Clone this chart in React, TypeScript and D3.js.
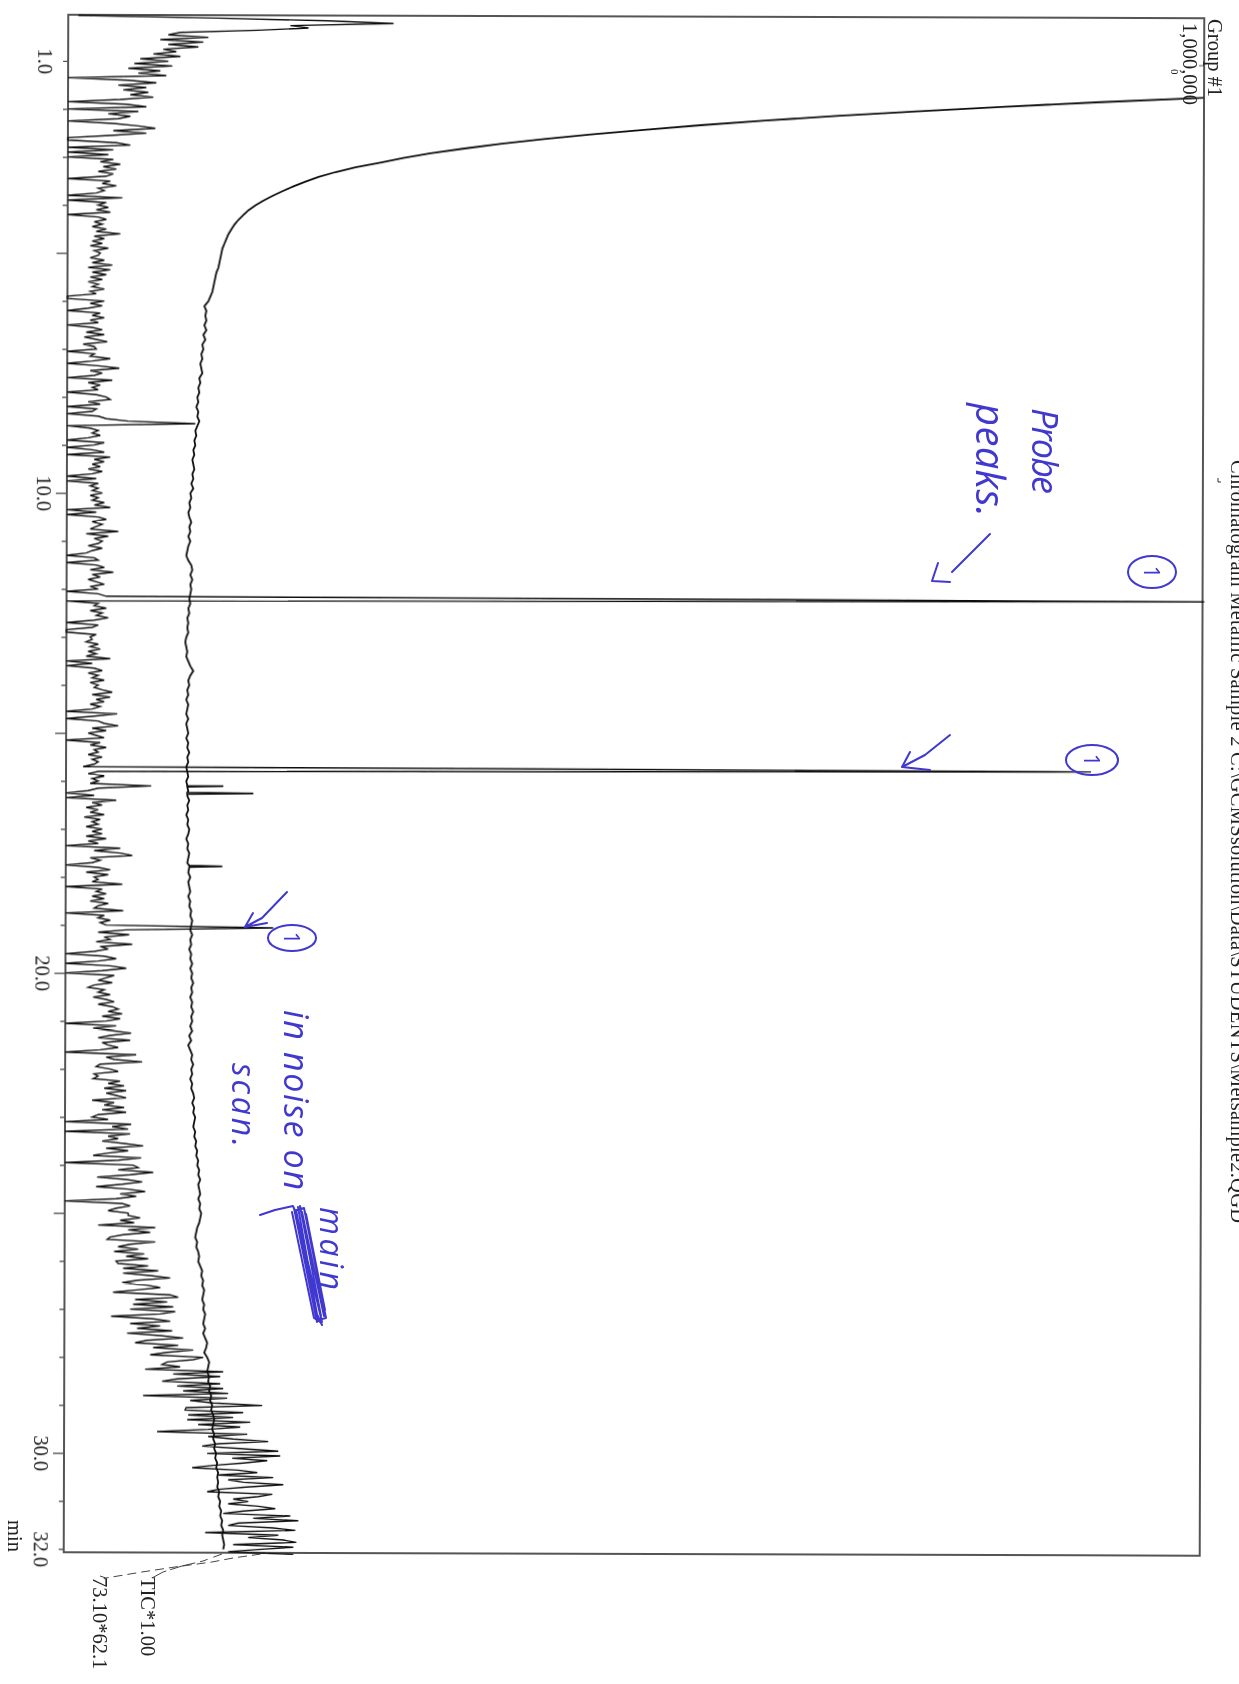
import React, { useEffect, useRef } from 'react';
import * as d3 from 'd3';

// Page is a scanned chromatogram, printed landscape and photographed rotated 90 degrees.
const W = 1239;
const H = 1684;

const titleText = 'Chromatogram Metallic Sample 2 C:\\GCMSsolution\\Data\\STUDENTS\\Metsample2.QGD';
const labelledTicks = [1, 10, 20, 30, 32];
const fullScale = 1135; // signal units at the 1,000,000 end of the axis

// m/z 73.10 trace (*62.1), one value every 0.05 min from 0.05 min, one row per minute
const massStart = 0.05;
const massStep = 0.05;
const massValues = [
  10, 150, 260, 325, 222, 240, 190, 112, 100, 140, 92, 135, 100, 130, 95, 108, 85, 112, 72, 100,
  66, 104, 60, 92, 70, 98, 0, 60, 88, 50, 78, 55, 80, 62, 85, 52, 0, 58, 78, 0,
  70, 40, 62, 50, 0, 45, 70, 87, 45, 78, 42, 0, 0, 48, 62, 0, 45, 0, 40, 0,
  45, 32, 52, 35, 48, 30, 45, 38, 0, 42, 34, 48, 30, 36, 28, 0, 54, 0, 38, 30,
  40, 28, 42, 0, 30, 38, 26, 34, 24, 38, 28, 52, 26, 36, 24, 34, 22, 40, 26, 32,
  30, 22, 36, 24, 44, 20, 42, 24, 38, 22, 34, 20, 30, 24, 36, 22, 28, 0, 0, 36,
  22, 34, 20, 0, 32, 24, 36, 22, 30, 0, 24, 34, 18, 36, 16, 28, 39, 15, 26, 28,
  0, 26, 22, 42, 24, 0, 30, 51, 22, 34, 26, 0, 44, 20, 32, 24, 30, 0, 28, 38,
  42, 20, 32, 0, 28, 24, 0, 30, 38, 60, 127, 0, 22, 30, 24, 32, 20, 0, 36, 26,
  0, 24, 36, 0, 42, 26, 36, 24, 32, 20, 34, 24, 0, 28, 0, 30, 22, 30, 24, 34,
  22, 30, 24, 36, 26, 42, 0, 28, 0, 30, 38, 24, 34, 28, 22, 50, 18, 40, 26, 34,
  30, 20, 34, 24, 18, 0, 26, 30, 0, 28, 36, 22, 45, 24, 32, 20, 28, 36, 22, 30,
  0, 30, 38, 1135, 0, 30, 26, 38, 22, 34, 28, 40, 26, 0, 30, 24, 0, 0, 28, 22,
  24, 18, 30, 22, 32, 20, 28, 18, 42, 0, 24, 0, 26, 34, 20, 30, 24, 36, 22, 30,
  26, 34, 44, 24, 42, 28, 36, 22, 32, 24, 0, 49, 26, 0, 30, 36, 50, 24, 38, 20,
  28, 36, 0, 32, 22, 38, 26, 30, 20, 34, 24, 30, 26, 15, 1022, 30, 20, 36, 24, 30,
  22, 83, 30, 20, 0, 26, 0, 48, 24, 34, 18, 30, 22, 36, 16, 32, 24, 30, 18, 34,
  24, 34, 18, 38, 20, 30, 0, 52, 26, 52, 64, 22, 32, 24, 0, 30, 42, 18, 40, 26,
  30, 24, 54, 0, 34, 28, 38, 24, 36, 22, 40, 30, 26, 55, 0, 36, 30, 42, 32, 38,
  205, 58, 30, 61, 36, 42, 28, 64, 32, 40, 26, 0, 36, 48, 30, 0, 42, 58, 34, 0,
  46, 38, 30, 44, 26, 20, 36, 30, 42, 25, 38, 46, 30, 44, 50, 40, 54, 34, 52, 38,
  0, 48, 25, 44, 63, 42, 30, 62, 34, 40, 50, 32, 0, 68, 38, 46, 74, 32, 28, 42,
  50, 26, 30, 25, 52, 40, 56, 36, 58, 38, 48, 58, 24, 46, 36, 56, 34, 58, 30, 24,
  40, 0, 63, 44, 60, 0, 62, 40, 50, 34, 56, 75, 38, 60, 40, 25, 73, 50, 0, 65,
  70, 50, 85, 62, 29, 58, 74, 54, 28, 60, 77, 52, 68, 48, 0, 54, 62, 48, 40, 60,
  60, 72, 52, 66, 30, 87, 60, 82, 55, 42, 39, 87, 62, 50, 70, 46, 76, 58, 80, 48,
  50, 80, 55, 90, 55, 82, 102, 69, 54, 79, 92, 69, 45, 102, 110, 67, 99, 65, 105, 62,
  107, 92, 43, 85, 102, 62, 92, 69, 104, 59, 92, 115, 79, 67, 110, 85, 125, 99, 82, 135,
  125, 99, 94, 112, 77, 155, 105, 152, 109, 94, 152, 109, 155, 115, 160, 75, 159, 122, 145, 194,
  118, 117, 175, 120, 165, 119, 182, 130, 172, 140, 89, 179, 140, 165, 200, 150, 134, 172, 210, 139,
  212, 164, 199, 175, 145, 124, 170, 189, 150, 205, 160, 175, 215, 178, 150, 139, 204, 190, 165, 180,
  160, 190, 207, 175, 155, 222, 185, 230, 170, 160, 205, 227, 137, 210, 180, 215, 228, 165, 225, 190,
  160, 225,
];

// TIC trace, one value every 0.1 min from 1.7 min (off scale before that)
const ticStart = 1.7;
const ticStep = 0.1;
const ticValues = [
  1135, 1027, 932, 847, 767, 697, 632, 575, 522, 475, 433, 396, 362, 335, 312, 287, 267, 250, 237, 225,
  214, 204, 195, 187, 180, 175, 170, 166, 163, 160, 158, 156, 154, 153, 152, 151, 150, 148, 147, 146,
  145, 144, 142,
  140, 136, 138, 137, 138, 136, 138, 135, 137, 134, 135, 133, 134, 132, 133, 134, 131, 132, 130, 131,
  129, 130, 128, 130, 129, 131, 129, 127, 128, 126, 127, 125, 126, 124, 125, 126, 124, 125, 123, 125,
  122, 123, 121, 122, 120, 121, 123, 121, 122, 120, 122, 120, 119, 118, 120, 123, 124, 122, 124, 122,
  123, 122, 121, 122, 120, 121, 119, 120, 119, 120, 118, 117, 118, 119, 118, 120, 122, 125, 122, 120,
  121, 119, 120, 118, 120, 119, 118, 120, 118, 119, 120, 118, 120, 119, 121, 119, 120, 118, 119, 120,
  118, 119, 120, 119, 121, 119, 120, 118, 120, 119, 121, 120, 118, 120, 119, 121, 120, 119, 121, 120,
  122, 120, 121, 122, 120, 122, 121, 123, 122, 124, 123, 122, 124, 122, 123, 121, 123, 122, 124, 122,
  124, 123, 125, 123, 124, 122, 124, 123, 125, 123, 124, 122, 124, 121, 123, 120, 122, 124, 123, 125,
  123, 124, 122, 124, 123, 125, 126, 124, 126, 125, 127, 126, 125, 127, 126, 128, 127, 129, 128, 130,
  129, 131, 130, 132, 130, 131, 132, 130, 132, 131, 133, 132, 131, 129, 128, 127, 129, 128, 130, 131,
  130, 132, 134, 133, 135, 134, 136, 135, 134, 136, 135, 137, 136, 135, 137, 135, 137, 139, 138, 136,
  139, 141, 140, 139, 141, 140, 142, 141, 143, 142, 144, 143, 145, 146, 145, 144, 146, 145, 147, 146,
  148, 147, 149, 148, 150, 149, 150, 149, 151, 150, 152, 151, 153, 152, 154, 153, 155, 154, 155, 156,
  155,
];

// small TIC peaks standing on the baseline
const ticPeakTimes = [16.1, 16.25, 17.77];
const ticPeakValues = [155, 185, 154];

// Handwritten notes added on the printout (page coordinates, rotated with the page)
const notes = [
  { text: 'Probe', x: 1032, y: 408, len: 86, size: 36 },
  { text: 'peaks.', x: 976, y: 403, len: 114, size: 40 },
  { text: 'in noise on', x: 284, y: 1010, len: 180, size: 34 },
  { text: 'scan.', x: 232, y: 1063, len: 84, size: 32 },
  { text: 'main', x: 320, y: 1207, len: 83, size: 32 },
];
const circledOnes = [
  { cx: 1152, cy: 572, rx: 24, ry: 16 },
  { cx: 1092, cy: 760, rx: 26, ry: 15 },
  { cx: 292, cy: 938, rx: 24, ry: 13 },
];
const penStrokes = [
  'M990,534 L952,572 M938,563 L932,581 L950,582',
  'M950,735 L925,755 L902,767 M910,752 L902,767 L930,770',
  'M287,892 L262,918 L245,927 M253,913 L245,927 L267,923',
  'M260,1215 L275,1210 L293,1206 L298,1220 L322,1322 M298,1207 L318,1320 L326,1318 L304,1208 L296,1210 L316,1312 L322,1325 M302,1212 L324,1316 M292,1212 L314,1318 L320,1322 M300,1206 L321,1316 M294,1208 L317,1322 M306,1214 L325,1310',
];

const App = () => {
  const svgRef = useRef<SVGSVGElement | null>(null);

  useEffect(() => {
    const svg = d3.select(svgRef.current);
    svg.selectAll('*').remove();

    svg.append('defs').append('filter').attr('id', 'scan')
      .append('feGaussianBlur').attr('stdDeviation', 0.3);

    const serif = '"Liberation Serif", serif';
    const page = svg.append('g').attr('filter', 'url(#scan)');

    // The sheet sits slightly crooked on the scanner
    const chart = page.append('g').attr('transform', 'rotate(0.17 635 785)');

    const time = d3.scaleLinear().domain([1, 30]).range([62.6, 1454.6]);
    const signal = d3.scaleLinear().domain([0, fullScale]).range([66, 1202]);
    const top = 16.5;
    const bottom = 1554;

    chart.append('rect')
      .attr('x', signal(0)).attr('y', top)
      .attr('width', signal(fullScale) - signal(0)).attr('height', bottom - top)
      .attr('fill', 'none').attr('stroke', '#555').attr('stroke-width', 2);

    // time axis on the left, rotated labels
    const axis = d3.axisLeft(time)
      .tickValues(d3.range(1, 33))
      .tickSize(5)
      .tickSizeOuter(0)
      .tickFormat((d: any) => (labelledTicks.includes(+d) ? (+d).toFixed(1) : ''));
    const gAxis = chart.append('g')
      .attr('transform', `translate(${signal(0)},0)`)
      .call(axis);
    gAxis.select('.domain').remove();
    gAxis.selectAll('.tick line')
      .attr('stroke', '#555')
      .attr('stroke-width', 1.4)
      .attr('x2', (d: any) => (+d % 5 === 0 ? -11 : -5));
    gAxis.selectAll('.tick text')
      .attr('x', null).attr('dy', null).attr('y', null)
      .attr('transform', 'translate(-30,0) rotate(90)')
      .attr('text-anchor', 'middle')
      .attr('fill', '#222')
      .style('font-family', serif)
      .style('font-size', '20.5px');

    // values were read against the tilted frame, so lift the ones off the baseline by the drift
    const drift = (t: number) => 4.3 * (t / 32);
    const lineGen = d3.line<[number, number]>()
      .x((d) => signal(d[1]) + (d[1] > 0 ? drift(d[0]) : 0))
      .y((d) => time(d[0]));

    // TIC with its small peaks merged in
    const ticPoints: [number, number][] = ticValues.map((v, i) => [ticStart + i * ticStep, v]);
    ticPeakTimes.forEach((t, i) => {
      const base = ticValues[Math.round((t - ticStart) / ticStep)];
      ticPoints.push([t - 0.015, base], [t, ticPeakValues[i]], [t + 0.015, base]);
    });
    ticPoints.sort((a, b) => a[0] - b[0]);

    const massPoints: [number, number][] = massValues.map((v, i) => [massStart + i * massStep, v]);

    chart.append('path')
      .attr('d', lineGen(ticPoints))
      .attr('fill', 'none').attr('stroke', '#111').attr('stroke-width', 1.8);
    chart.append('path')
      .attr('d', lineGen(massPoints))
      .attr('fill', 'none').attr('stroke', '#111').attr('stroke-width', 1.4);

    // little inner ticks near the top of the right edge
    chart.selectAll('line.rt').data([64, 96]).enter().append('line')
      .attr('class', 'rt')
      .attr('x1', signal(fullScale) - 5).attr('x2', signal(fullScale))
      .attr('y1', (d) => d).attr('y2', (d) => d)
      .attr('stroke', '#555');

    const vertical = (txt: string, x: number, y: number, size = 20.5, len?: number) => {
      const t = page.append('text')
        .attr('transform', `translate(${x},${y}) rotate(90)`)
        .attr('fill', '#222')
        .style('font-family', serif)
        .style('font-size', `${size}px`)
        .text(txt);
      if (len) t.attr('textLength', len);
      return t;
    };

    vertical(titleText, 1231, 460, 20.5, 763);
    vertical('Group #1', 1208, 19);
    vertical('1,000,000', 1183, 23);
    vertical('0', 1171, 69, 11);
    vertical('min', 8, 1520);
    vertical('TIC*1.00', 141, 1577);
    vertical('73.10*62.1', 93, 1577);

    // dashed leaders from the trace ends to their labels
    page.append('path')
      .attr('d', 'M152,1578 L163,1572 L182,1566 L203,1561 L222,1554')
      .attr('fill', 'none').attr('stroke', '#444').attr('stroke-dasharray', '16 4 26 5 8 6');
    page.append('path')
      .attr('d', 'M100,1576 L106,1578 L142,1572 L175,1567 L212,1562 L233,1558 L268,1553')
      .attr('fill', 'none').attr('stroke', '#444').attr('stroke-dasharray', '9 5');
    page.append('path').attr('d', 'M1218,478 L1218,482 L1221,482').attr('fill', 'none').attr('stroke', '#333');

    // pen annotations
    const ink = '#3f38cf';
    page.selectAll('path.pen').data(penStrokes).enter().append('path')
      .attr('class', 'pen')
      .attr('d', (d) => d)
      .attr('fill', 'none').attr('stroke', ink).attr('stroke-width', 2)
      .attr('stroke-linecap', 'round').attr('stroke-linejoin', 'round');
    page.selectAll('ellipse').data(circledOnes).enter().append('ellipse')
      .attr('cx', (d) => d.cx).attr('cy', (d) => d.cy)
      .attr('rx', (d) => d.rx).attr('ry', (d) => d.ry)
      .attr('fill', 'none').attr('stroke', ink).attr('stroke-width', 2);
    circledOnes.forEach((c) => {
      page.append('text')
        .attr('transform', `translate(${c.cx - 8},${c.cy}) rotate(90)`)
        .attr('text-anchor', 'middle')
        .attr('fill', ink)
        .style('font-family', '"Noto Sans", sans-serif')
        .style('font-size', '22px')
        .text('1');
    });
    notes.forEach((n) => {
      page.append('text')
        .attr('transform', `translate(${n.x},${n.y}) rotate(90)`)
        .attr('textLength', n.len)
        .attr('fill', ink)
        .style('font-family', '"Open Sans", sans-serif')
        .style('font-style', 'italic')
        .style('font-weight', 400)
        .style('font-size', `${n.size}px`)
        .text(n.text);
    });
  }, []);

  return (
    <svg
      ref={svgRef}
      width={W}
      height={H}
      style={{ position: 'absolute', left: 0, top: 0, display: 'block', background: '#fff' }}
    />
  );
};

export default App;
